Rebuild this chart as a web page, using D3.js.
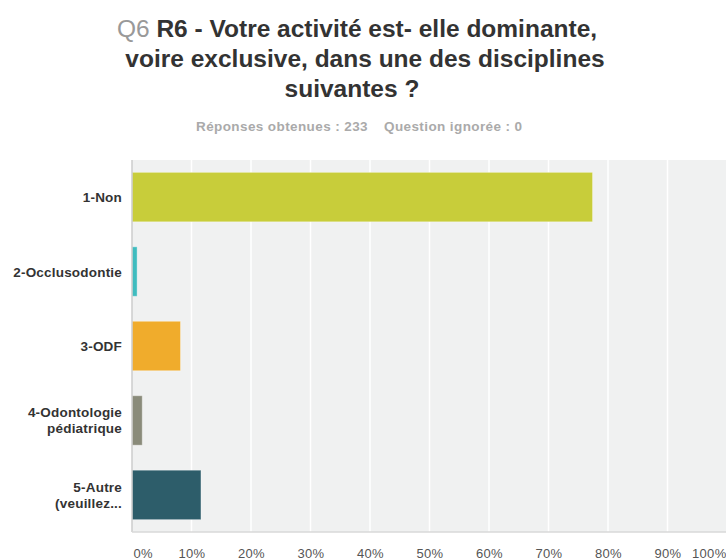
<!DOCTYPE html>
<html>
<head>
<meta charset="utf-8">
<script src="https://d3js.org/d3.v7.min.js"></script>
<style>
  body { margin: 0; background: #fff; }
  text { font-family: "Liberation Sans", Arial, sans-serif; }
</style>
</head>
<body>
<div id="chart"></div>
<script>
// answer choices (label lines) and share of respondents (%)
var categories = ["1-Non", "2-Occlusodontie", "3-ODF", "4-Odontologie pédiatrique", "5-Autre (veuillez..."];
var labelLines = [["1-Non"], ["2-Occlusodontie"], ["3-ODF"], ["4-Odontologie", "pédiatrique"], ["5-Autre", "(veuillez..."]];
var percents = [77.4, 0.86, 8.15, 1.72, 11.59];
var barColors = ["#c8cd3a", "#3fbcbf", "#f0ac2c", "#8a8b7a", "#2d5d6a"];
var tickValues = [0, 10, 20, 30, 40, 50, 60, 70, 80, 90, 100];
var titleLines = ["R6 - Votre activité est- elle dominante,", "voire exclusive, dans une des disciplines", "suivantes ?"];

var W = 726, H = 560;
var margin = {top: 160, left: 132, bottom: 28};
var plotW = 595, plotH = H - margin.top - margin.bottom;

var svg = d3.select("#chart").append("svg")
    .attr("width", W).attr("height", H);

// title, three centred lines
var titleX = [357, 365, 352];
var title = svg.append("g")
    .style("font-size", "24.5px").style("font-weight", "bold").style("fill", "#333");
titleLines.forEach(function(t, i) {
    var line = title.append("text")
        .attr("x", titleX[i]).attr("y", 37 + i * 30)
        .attr("text-anchor", "middle");
    if (i === 0) line.append("tspan").style("fill", "#999").style("font-weight", "normal").text("Q6 ");
    line.append("tspan").text(t);
});

// response counts
svg.append("text")
    .attr("x", 368).attr("y", 131)
    .attr("text-anchor", "end")
    .style("font-size", "13.5px").style("font-weight", "bold").style("fill", "#aaa")
    .style("letter-spacing", "0.4px")
    .text("Réponses obtenues : 233");
svg.append("text")
    .attr("x", 384).attr("y", 131)
    .style("font-size", "13.5px").style("font-weight", "bold").style("fill", "#aaa")
    .style("letter-spacing", "0.4px")
    .text("Question ignorée : 0");

var g = svg.append("g")
    .attr("transform", "translate(" + margin.left + "," + margin.top + ")");

var x = d3.scaleLinear().domain([0, 100]).range([0, plotW]);
var y = d3.scaleBand().domain(categories).range([0, plotH])
    .paddingInner(0.336).paddingOuter(0.166);

// background
g.append("rect")
    .attr("width", W - margin.left).attr("height", plotH)
    .style("fill", "#f0f1f1");

// vertical grid
g.append("g").selectAll("line")
    .data(tickValues.slice(1))
    .join("line")
    .attr("x1", d => x(d)).attr("x2", d => x(d))
    .attr("y1", 0).attr("y2", plotH)
    .style("stroke", "#fff").style("stroke-width", 1.5);

// bars
g.append("g").selectAll("rect")
    .data(categories)
    .join("rect")
    .attr("x", 0)
    .attr("y", d => y(d))
    .attr("width", (d, i) => x(percents[i]))
    .attr("height", y.bandwidth())
    .style("fill", (d, i) => barColors[i])
    .style("stroke", "rgba(255,255,255,0.35)")
    .style("stroke-width", 1);

// axis lines
g.append("line").attr("x1", 0).attr("x2", 0).attr("y1", 0).attr("y2", plotH)
    .style("stroke", "#ccc").style("stroke-width", 1.5);
g.append("line").attr("x1", 0).attr("x2", W - margin.left).attr("y1", plotH).attr("y2", plotH)
    .style("stroke", "#d8d8d8").style("stroke-width", 1.5);

// x axis labels
var xAxis = g.append("g")
    .attr("transform", "translate(0," + plotH + ")")
    .call(d3.axisBottom(x).tickValues(tickValues).tickFormat(d => d + "%").tickSize(0).tickPadding(17));
xAxis.select(".domain").remove();
xAxis.selectAll("text")
    .style("font-family", "'Liberation Sans', Arial, sans-serif")
    .style("font-size", "13px").style("fill", "#555")
    .style("letter-spacing", "0.3px");
xAxis.selectAll(".tick").filter(d => d === 0).select("text").attr("text-anchor", "start").attr("x", 1);
xAxis.selectAll(".tick").filter(d => d === 100).select("text").attr("text-anchor", "end").attr("x", -1);

// y labels
g.append("g").selectAll("text")
    .data(categories)
    .join("text")
    .attr("text-anchor", "end")
    .style("font-size", "13.5px").style("font-weight", "bold").style("fill", "#333")
    .style("letter-spacing", "0.2px")
    .each(function(d, i) {
        var lines = labelLines[i];
        var cy = y(d) + y.bandwidth() / 2;
        var start = cy - (lines.length - 1) * 8 + 5;
        d3.select(this).selectAll("tspan")
            .data(lines).join("tspan")
            .attr("x", -10)
            .attr("y", (l, j) => start + j * 16)
            .text(l => l);
    });
</script>
</body>
</html>
